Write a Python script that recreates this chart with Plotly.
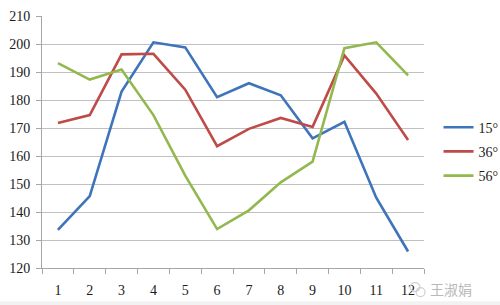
import plotly.graph_objects as go

months = ["1", "2", "3", "4", "5", "6", "7", "8", "9", "10", "11", "12"]
s15 = [133.6, 145.7, 183.0, 200.6, 198.8, 181.0, 186.0, 181.7, 166.3, 172.2, 145.1, 125.9]
s36 = [171.8, 174.6, 196.3, 196.5, 183.7, 163.5, 169.7, 173.6, 170.4, 195.9, 182.3, 165.7]
s56 = [193.2, 187.3, 190.9, 174.6, 153.0, 133.9, 140.6, 150.6, 158.0, 198.5, 200.6, 188.8]
names = ["15°", "36°", "56°"]
colors = ["#3E74BA", "#BE4B48", "#93B84F"]

fig = go.Figure()
for i, (ys, nm, c) in enumerate(zip([s15, s36, s56], names, colors)):
    fig.add_trace(go.Scatter(x=months, y=ys, mode="lines", name=nm,
                             legendgroup=nm,
                             line=dict(color=c, width=2.6)))

font = dict(family="Liberation Serif", size=14, color="#1a1a1a")
fig.update_layout(
    width=500, height=305,
    margin=dict(l=41.5, r=76, t=15.5, b=36.7, autoexpand=False),
    paper_bgcolor="white", plot_bgcolor="white",
    font=font,
    showlegend=True,
    legend=dict(x=1.038, y=0.462, xanchor="left", yanchor="middle",
                font=font, tracegroupgap=3, bgcolor="rgba(0,0,0,0)"),
    xaxis=dict(type="category", tickson="boundaries", ticks="outside",
               range=[-0.5, 11.5], automargin=False,
               ticklen=5, tickcolor="#a6a6a6", showline=True, linecolor="#a6a6a6",
               linewidth=1, showgrid=False, zeroline=False, tickfont=font,
               ticklabelstandoff=9),
    yaxis=dict(range=[120, 210], dtick=10, ticks="outside", ticklen=5,
               automargin=False,
               tickcolor="#a6a6a6", showline=True, linecolor="#a6a6a6",
               linewidth=1, showgrid=True, gridcolor="#c0c0c0", gridwidth=1,
               zeroline=False, tickfont=font, ticklabelstandoff=3),
    shapes=[dict(type="rect", xref="paper", yref="paper", x0=-0.2, x1=1.3,
                 y0=-0.2, y1=-0.132, fillcolor="#f2f2f2", line_width=0, layer="below"),
            dict(type="circle", xref="paper", yref="paper",
                 x0=(410 - 41.5) / 382.5, x1=(420 - 41.5) / 382.5,
                 y0=-(292 - 268.3) / 252.8, y1=-(283 - 268.3) / 252.8,
                 line=dict(color="#d0d0d0", width=1.2)),
            dict(type="circle", xref="paper", yref="paper",
                 x0=(416 - 41.5) / 382.5, x1=(425 - 41.5) / 382.5,
                 y0=-(297 - 268.3) / 252.8, y1=-(288 - 268.3) / 252.8,
                 line=dict(color="#d0d0d0", width=1.2))],
    annotations=[dict(text="王淑娟", xref="paper", yref="paper",
                      x=(428 - 41.5) / 382.5, y=-(289 - 268.3) / 252.8,
                      xanchor="left", yanchor="middle", showarrow=False,
                      font=dict(family="Noto Sans CJK SC", size=14, color="#b8b8b8"))],
)

fig.write_html("out.html")
